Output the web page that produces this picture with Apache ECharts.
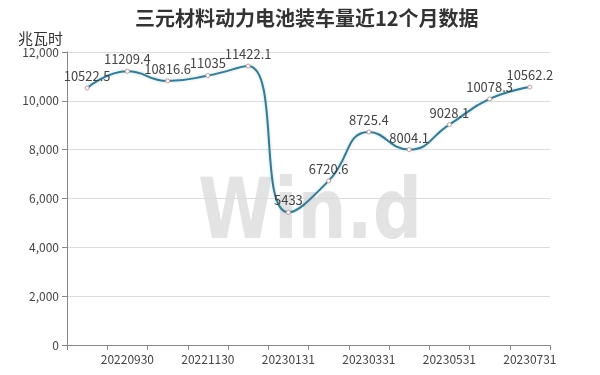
<!DOCTYPE html>
<html><head><meta charset="utf-8">
<script src="https://cdn.jsdelivr.net/npm/echarts@6/dist/echarts.min.js"></script>
<style>html,body{margin:0;padding:0;background:#fff}#c{width:600px;height:375px}</style>
</head><body><div id="c"></div>
<script>
const categories = ['20220831','20220930','20221031','20221130','20221231','20230131','20230228','20230331','20230430','20230531','20230630','20230731'];
const values = [10522.5, 11209.4, 10816.6, 11035, 11422.1, 5433, 6720.6, 8725.4, 8004.1, 9028.1, 10078.3, 10562.2];
const yTicks = {min: 0, max: 12000, interval: 2000};
const FONT = '"Noto Sans CJK SC", "Noto Sans", sans-serif';
const chart = echarts.init(document.getElementById('c'));
chart.setOption({
  animation: false,
  textStyle: {fontFamily: FONT},
  title: {text: '三元材料动力电池装车量近12个月数据', left: 130, top: 3,
    textStyle: {fontSize: 20, fontWeight: 'bold', color: '#333', fontFamily: FONT}},
  graphic: [{type: 'text', x: 198, y: 216, scaleX: 0.82, z: -1, silent: true,
    style: {text: 'Win.d', fontSize: 84, fontWeight: 'bold', fill: '#e3e3e3', fontFamily: 'DejaVu Sans', verticalAlign: 'middle', align: 'left'}}],
  grid: {left: 67, right: 50, top: 52, bottom: 30},
  xAxis: {type: 'category', data: categories, boundaryGap: true,
    axisLine: {lineStyle: {color: '#888'}},
    axisTick: {show: true, interval: 0, lineStyle: {color: '#888'}},
    axisLabel: {interval: (i) => i % 2 === 1, color: '#444', fontSize: 12, margin: 8}},
  yAxis: {type: 'value', min: yTicks.min, max: yTicks.max, interval: yTicks.interval,
    name: '兆瓦时', nameLocation: 'end', nameGap: 6,
    nameTextStyle: {color: '#333', fontSize: 15, align: 'right', padding: [0, 4, 0, 0]},
    axisLine: {show: true, lineStyle: {color: '#888'}},
    axisTick: {show: true, lineStyle: {color: '#888'}},
    axisLabel: {color: '#444', fontSize: 12, formatter: v => v.toLocaleString('en-US')},
    splitLine: {lineStyle: {color: '#dcdcdc'}}},
  series: [{type: 'line', data: values, smooth: true,
    symbol: 'circle', symbolSize: 4, showSymbol: true,
    lineStyle: {color: '#3b7892', width: 2, shadowColor: 'rgba(120,200,220,0.6)', shadowBlur: 3},
    itemStyle: {color: '#fff', borderColor: '#c59a9a', borderWidth: 1},
    label: {show: true, position: 'top', color: '#444', fontSize: 13, distance: 3}}]
});
</script></body></html>
